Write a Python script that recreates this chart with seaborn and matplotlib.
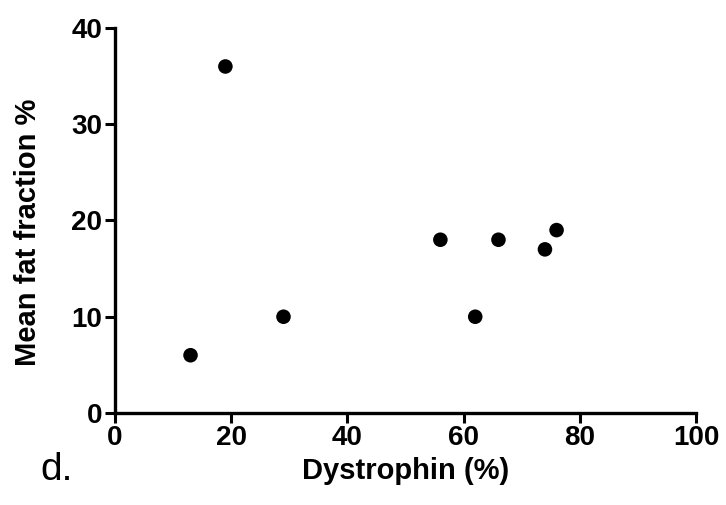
import matplotlib
matplotlib.use("Agg")
import matplotlib.pyplot as plt
import seaborn as sns
import pandas as pd

# values
dystrophin = [13, 19, 29, 56, 62, 66, 74, 76]
fat_fraction = [6, 36, 10, 18, 10, 18, 17, 19]
x_ticks = [0, 20, 40, 60, 80, 100]
y_ticks = [0, 10, 20, 30, 40]

df = pd.DataFrame({"Dystrophin (%)": dystrophin, "Mean fat fraction %": fat_fraction})

sns.set_style("ticks")
plt.rcParams["font.family"] = ["Liberation Sans", "DejaVu Sans"]
for k in ["text.color", "axes.labelcolor", "xtick.color", "ytick.color", "axes.edgecolor"]:
    plt.rcParams[k] = "black"

fig = plt.figure(figsize=(7.26, 5.05), dpi=100)
ax = fig.add_axes([0.1584, 0.1822, 0.8003, 0.7624])

sns.scatterplot(data=df, x="Dystrophin (%)", y="Mean fat fraction %", ax=ax,
                color="black", s=110, edgecolor="none", clip_on=False)

ax.set_xlim(0, 100)
ax.set_ylim(0, 40)
ax.set_xticks(x_ticks)
ax.set_yticks(y_ticks)
ax.set_xticklabels([str(t) for t in x_ticks], fontsize=20, fontweight="bold")
ax.set_yticklabels([str(t) for t in y_ticks], fontsize=20, fontweight="bold")
ax.tick_params(width=2.2, length=7, pad=2)
for side in ["left", "bottom"]:
    ax.spines[side].set_linewidth(2.4)
sns.despine(ax=ax)

ax.set_xlabel("Dystrophin (%)", fontsize=21, fontweight="bold", labelpad=4)
ax.set_ylabel("Mean fat fraction %", fontsize=21, fontweight="bold")
ax.yaxis.set_label_coords(-0.125, 0.47)

fig.text(0.055, 0.05, "d.", fontsize=28)

fig.savefig("out.png", dpi=100)
